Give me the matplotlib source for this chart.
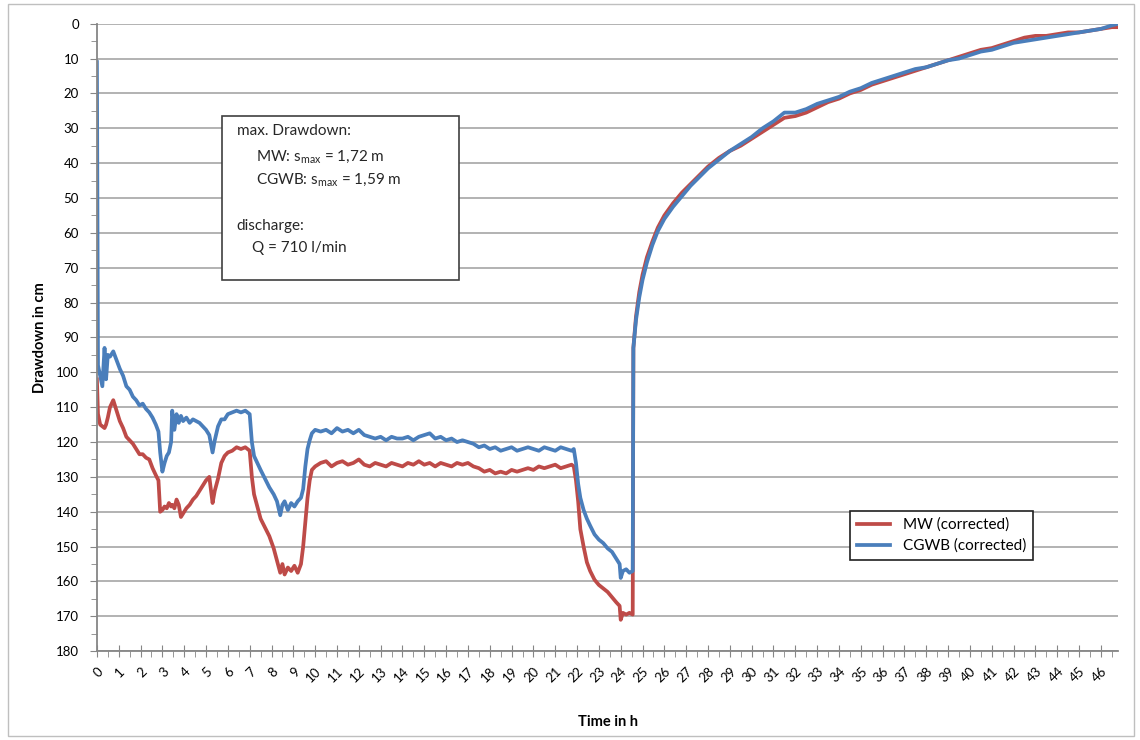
import matplotlib
matplotlib.use('Agg')
from matplotlib import pyplot as plt
from matplotlib.patches import Rectangle
from matplotlib.ticker import MultipleLocator

# time in hours, drawdown in cm
hours = [
    0.00, 0.05, 0.15, 0.25, 0.35, 0.42, 0.50, 0.60, 0.75, 0.90,
    1.05, 1.20, 1.35, 1.50, 1.65, 1.80, 1.95, 2.10, 2.25, 2.40,
    2.55, 2.70, 2.82, 2.90, 3.00, 3.10, 3.20, 3.30, 3.40, 3.45,
    3.55, 3.65, 3.75, 3.85, 3.95, 4.10, 4.25, 4.40, 4.55, 4.70,
    4.85, 5.00, 5.15, 5.30, 5.40, 5.55, 5.70, 5.85, 6.00, 6.20,
    6.40, 6.60, 6.80, 7.00, 7.10, 7.20, 7.35, 7.50, 7.70, 7.90,
    8.10, 8.25, 8.40, 8.50, 8.60, 8.75, 8.90, 9.05, 9.20, 9.35,
    9.45, 9.55, 9.65, 9.75, 9.85, 10.00,
    10.25, 10.50, 10.75, 11.00, 11.25, 11.50, 11.75, 12.00, 12.25, 12.50,
    12.75, 13.00, 13.25, 13.50, 13.75, 14.00, 14.25, 14.50, 14.75, 15.00,
    15.25, 15.50, 15.75, 16.00, 16.25, 16.50, 16.75, 17.00, 17.25, 17.50,
    17.75, 18.00, 18.25, 18.50, 18.75, 19.00, 19.25, 19.50, 19.75, 20.00,
    20.25, 20.50, 20.75, 21.00, 21.25, 21.50, 21.75, 21.85,
    21.95, 22.05, 22.15, 22.30, 22.45, 22.60, 22.80, 23.00, 23.20, 23.40,
    23.60, 23.80, 23.95, 24.00, 24.10, 24.25, 24.40, 24.55,
    24.58, 24.70, 24.85, 25.00, 25.20, 25.45, 25.70, 26.00, 26.40, 26.80,
    27.20, 27.60, 28.00, 28.50, 29.00, 29.50, 30.00, 30.50, 31.00, 31.50,
    32.00, 32.50, 33.00, 33.50, 34.00, 34.50, 35.00, 35.50, 36.00, 36.50,
    37.00, 37.50, 38.00, 38.50, 39.00, 39.50, 40.00, 40.50, 41.00, 41.50,
    42.00, 42.50, 43.00, 43.50, 44.00, 44.50, 45.00, 45.50, 46.00, 46.50,
    46.80,
]

mw = [
    102, 112, 115, 115.5, 116, 115, 113, 110, 108, 111,
    114, 116, 118.5, 119.5, 120.5, 122, 123.5, 123.5, 124.5, 125,
    127.5, 129.5, 131, 140, 139.5, 138.5, 139, 137.5, 138.5, 138,
    139, 136.5, 138, 141.5, 140.5, 139, 138, 136.5, 135.5, 134,
    132.5, 131, 130, 137.5, 134, 130.5, 126, 124, 123, 122.5,
    121.5, 122, 121.5, 122.5, 130, 135, 138.5, 142, 144.5, 147,
    150.5, 154, 157.5, 155, 158, 156, 157, 155.5, 157.5, 155,
    150, 143, 136, 131, 128, 127,
    126, 125.5, 127, 126, 125.5, 126.5, 126, 125, 126.5, 127,
    126, 126.5, 127, 126, 126.5, 127, 126, 126.5, 125.5, 126.5,
    126, 127, 126, 126.5, 127, 126, 126.5, 126, 127, 127.5,
    128.5, 128, 129, 128.5, 129, 128, 128.5, 128, 127.5, 128,
    127, 127.5, 127, 126.5, 127.5, 127, 126.5, 127,
    131, 137, 145, 150, 154.5, 157, 159.5, 161, 162, 163,
    164.5, 166, 167, 171, 169, 169.5, 169, 169.5,
    93, 84, 77, 72, 67, 62.5, 58.5, 55, 51.5, 48.5,
    46, 43.5, 41, 38.5, 36.5, 35, 33, 31, 29, 27,
    26.5, 25.5, 24, 22.5, 21.5, 20, 19, 17.5, 16.5, 15.5,
    14.5, 13.5, 12.5, 11.5, 10.5, 9.5, 8.5, 7.5, 7, 6,
    5, 4, 3.5, 3.5, 3, 2.5, 2.5, 2, 1.5, 1,
    1,
]

cgwb = [
    11, 98, 101, 104, 93, 102, 95, 95.5, 94, 96.5,
    99, 101, 104, 105, 107, 108, 109.5, 109, 110.5, 111.5,
    113, 115, 117, 123, 128.5, 126, 124, 123, 120, 111,
    116.5, 112, 114.5, 112.5, 114, 113, 114.5, 113.5, 114, 114.5,
    115.5, 116.5, 118, 123, 119.5, 115.5, 113.5, 113.5, 112, 111.5,
    111, 111.5, 111, 112, 120, 124, 126, 128, 130.5, 133,
    135, 137, 141, 138, 137, 139.5, 137.5, 138.5, 137, 136,
    133.5, 127, 122, 119.5, 117.5, 116.5,
    117, 116.5, 117.5, 116, 117, 116.5, 117.5, 116.5, 118, 118.5,
    119, 118.5, 119.5, 118.5, 119, 119, 118.5, 119.5, 118.5, 118,
    117.5, 119, 118.5, 119.5, 119, 120, 119.5, 120, 120.5, 121.5,
    121, 122, 121.5, 122.5, 122, 121.5, 122.5, 122, 121.5, 122,
    122.5, 121.5, 122, 122.5, 121.5, 122, 122.5, 122,
    126, 132, 136, 139.5, 142, 144, 146.5, 148, 149, 150.5,
    151.5, 153.5, 155, 159, 157, 156.5, 157.5, 157,
    93, 85, 78.5, 73.5, 68.5, 63.5, 59.5, 56, 52.5, 49.5,
    46.5, 44, 41.5, 39, 36.5, 34.5, 32.5, 30, 28, 25.5,
    25.5, 24.5, 23, 22, 21, 19.5, 18.5, 17, 16, 15,
    14, 13, 12.5, 11.5, 10.5, 10, 9, 8, 7.5, 6.5,
    5.5, 5, 4.5, 4, 3.5, 3, 2.5, 2, 1.5, 0.5,
    0,
]

x_ticks = list(range(0, 47))
y_ticks = list(range(0, 181, 10))

plt.rcParams['font.family'] = ['Lato', 'DejaVu Sans']
plt.rcParams['mathtext.fontset'] = 'custom'
plt.rcParams['mathtext.rm'] = 'Lato'

fig = plt.figure(figsize=(11.4, 7.4), dpi=100)
ax = fig.add_axes([0.085, 0.120, 0.896, 0.848])

ax.plot(hours, mw, color='#BE4B48', lw=2.7, label='MW (corrected)')
ax.plot(hours, cgwb, color='#4A7EBB', lw=2.7, label='CGWB (corrected)')

ax.set_xlim(0, 46.8)
ax.set_ylim(180, 0)
ax.set_yticks(y_ticks)
ax.set_xticks(x_ticks)
ax.set_xticklabels([str(t) for t in x_ticks], rotation=45, ha='right',
                   rotation_mode='anchor', fontsize=9.5)
ax.yaxis.set_minor_locator(MultipleLocator(5))
ax.xaxis.set_minor_locator(MultipleLocator(0.5))
ax.tick_params(axis='y', labelsize=9.5, color='#868686', length=5, pad=8)
ax.tick_params(axis='y', which='minor', color='#868686', length=4)
ax.tick_params(axis='x', direction='inout', color='#868686', length=8, pad=6)
ax.tick_params(axis='x', which='minor', direction='out', color='#868686', length=4)

ax.grid(axis='y', color='#A6A6A6', lw=1.2)
ax.set_axisbelow(True)
for s in ['top', 'right']:
    ax.spines[s].set_visible(False)
for s in ['left', 'bottom']:
    ax.spines[s].set_color('#868686')
    ax.spines[s].set_linewidth(1.3)

ax.set_ylabel('Drawdown in cm', fontsize=10.5, fontweight='bold', labelpad=6)
ax.set_xlabel('Time in h', fontsize=10.5, fontweight='bold', labelpad=22)

# info box
ax.add_patch(Rectangle((0.1224, 0.592), 0.2322, 0.261, transform=ax.transAxes,
                       facecolor='white', edgecolor='#404040', lw=1.2, zorder=5))
box_lines = [
    (0.137, 0.829, 'max. Drawdown:'),
    (0.156, 0.787, r'MW: s$_{\mathrm{max}}$ = 1,72 m'),
    (0.156, 0.750, r'CGWB: s$_{\mathrm{max}}$ = 1,59 m'),
    (0.137, 0.677, 'discharge:'),
    (0.152, 0.642, 'Q = 710 l/min'),
]
for bx, by, txt in box_lines:
    ax.text(bx, by, txt, transform=ax.transAxes, fontsize=11,
            color='#262626', va='center', ha='left', zorder=6)

leg = ax.legend(loc='upper left', bbox_to_anchor=(0.7297, 0.236), fontsize=11,
                fancybox=False, framealpha=1, edgecolor='#202020',
                handlelength=2.2, borderpad=0.45, labelspacing=0.45)
leg.get_frame().set_linewidth(1.2)

# outer chart frame
fig.patches.append(Rectangle((0.007, 0.005), 0.988, 0.99, transform=fig.transFigure,
                             fill=False, edgecolor='#BFBFBF', lw=1))

plt.savefig('out.png', dpi=100)
